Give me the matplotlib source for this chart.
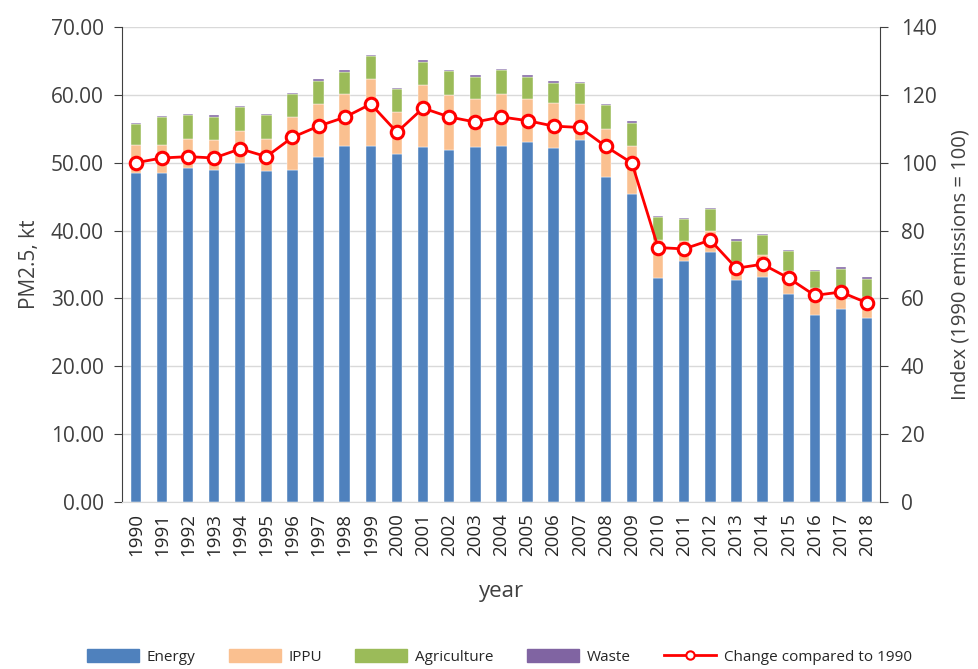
import numpy as np
import matplotlib
matplotlib.use("Agg")
import matplotlib.pyplot as plt
from matplotlib.lines import Line2D
from matplotlib.patches import Patch

years = [str(y) for y in range(1990, 2019)]

# segment heights (kt)
energy = [48.5, 48.5, 49.2, 49.0, 49.9, 48.8, 49.0, 50.9, 52.4, 52.4,
          51.3, 52.3, 51.9, 52.3, 52.5, 53.0, 52.1, 53.4, 47.9, 45.4,
          33.0, 35.5, 36.8, 32.7, 33.2, 30.7, 27.5, 28.4, 27.1]
ippu = [4.1, 4.1, 4.3, 4.3, 4.8, 4.7, 7.7, 7.7, 7.8, 10.0,
        6.2, 9.2, 8.1, 7.1, 7.7, 6.4, 6.7, 5.2, 7.0, 7.0,
        5.6, 2.9, 3.1, 2.6, 3.2, 3.3, 4.0, 3.2, 3.1]
agriculture = [3.1, 4.1, 3.5, 3.5, 3.5, 3.5, 3.4, 3.5, 3.2, 3.3,
               3.3, 3.4, 3.5, 3.3, 3.4, 3.3, 3.0, 3.1, 3.6, 3.5,
               3.4, 3.3, 3.3, 3.2, 2.9, 3.0, 2.5, 2.8, 2.7]
waste = [0.2] * 29
index = [100.0, 101.4, 101.8, 101.4, 104.1, 101.8, 107.5, 110.8, 113.4, 117.3,
         109.0, 116.1, 113.5, 112.0, 113.5, 112.4, 110.8, 110.4, 104.8, 99.9,
         75.0, 74.6, 77.2, 68.9, 70.1, 66.0, 60.9, 61.9, 58.7]

plt.rcParams['font.family'] = ['Open Sans', 'DejaVu Sans']
txt = '#404040'

fig = plt.figure(figsize=(9.79, 6.69), dpi=100)
ax = fig.add_axes([0.1246, 0.2496, 0.7743, 0.71])
x = np.arange(len(years))
w = 0.4

b1 = np.array(energy)
b2 = b1 + np.array(ippu)
b3 = b2 + np.array(agriculture)
ax.bar(x, energy, w, color='#4F81BD', edgecolor='white', linewidth=0.3, zorder=2)
ax.bar(x, ippu, w, bottom=b1, color='#FAC090', edgecolor='white', linewidth=0.3, zorder=2)
ax.bar(x, agriculture, w, bottom=b2, color='#9BBB59', edgecolor='white', linewidth=0.3, zorder=2)
ax.bar(x, waste, w, bottom=b3, color='#8064A2', edgecolor='white', linewidth=0.3, zorder=2)

ax.set_ylim(0, 70)
ax.set_yticks(np.arange(0, 71, 10))
ax.set_yticklabels([f"{v:.2f}" for v in range(0, 71, 10)])
ax.set_xlim(-0.53, 28.5)
ax.set_xticks(x)
ax.set_xticklabels(years, rotation=90)
ax.grid(axis='y', color='#d9d9d9', linewidth=1, zorder=0)
ax.set_axisbelow(True)
for s in ['top', 'right']:
    ax.spines[s].set_visible(False)
ax.spines['bottom'].set_color('#d9d9d9')
ax.spines['left'].set_color('#404040')
ax.tick_params(axis='y', labelsize=15, colors='#404040', labelcolor=txt, length=6,
               direction='out', pad=7)
ax.tick_params(axis='x', labelsize=13.5, length=0, labelcolor='#262626', pad=8)
ax.set_ylabel('PM2.5, kt', fontsize=15, color=txt, labelpad=8)
ax.set_xlabel('year', fontsize=16, color=txt, labelpad=18)

ax2 = ax.twinx()
ax2.plot(x, index, color='#FF0000', linewidth=2, marker='o', markersize=9,
         markerfacecolor='white', markeredgecolor='#FF0000', markeredgewidth=2.2, zorder=5)
ax2.set_ylim(0, 140)
ax2.set_yticks(np.arange(0, 141, 20))
for s in ['top', 'left', 'bottom']:
    ax2.spines[s].set_visible(False)
ax2.spines['right'].set_color('#404040')
ax2.tick_params(axis='y', labelsize=15, colors='#404040', labelcolor=txt, length=6,
                direction='out', pad=9)
ax2.set_ylabel('Index (1990 emissions = 100)', fontsize=14.5, color=txt, labelpad=10)

handles = [Patch(color='#4F81BD'), Patch(color='#FAC090'), Patch(color='#9BBB59'),
           Patch(color='#8064A2'),
           Line2D([], [], color='#FF0000', linewidth=2, marker='o', markersize=6,
                  markerfacecolor='white', markeredgecolor='#FF0000', markeredgewidth=1.5)]
labels = ['Energy', 'IPPU', 'Agriculture', 'Waste', 'Change compared to 1990']
fig.legend(handles, labels, loc='center', bbox_to_anchor=(0.51, 0.018), ncol=5,
           frameon=False, fontsize=11, handlelength=3.4, handleheight=0.9,
           handletextpad=0.5, columnspacing=2.2, labelcolor='#262626',
           borderaxespad=0, borderpad=0)

fig.savefig('out.png', dpi=100)
